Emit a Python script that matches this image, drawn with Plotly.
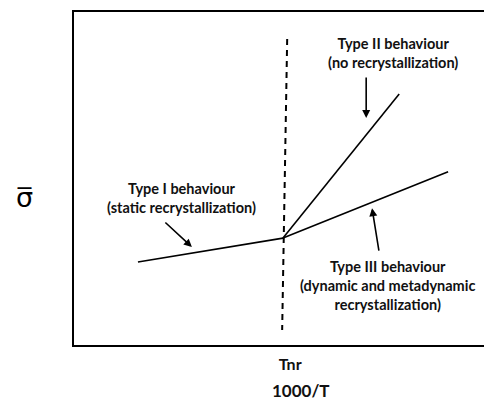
import plotly.graph_objects as go

# schematic data (arbitrary units, x = 1000/T, y = mean flow stress)
type1_x = [1.53, 5.0]
type1_y = [2.49, 3.21]
type2_x = [5.0, 7.78]
type2_y = [3.21, 7.54]
type3_x = [5.0, 8.95]
type3_y = [3.21, 5.2]
tnr_x = [5.10, 4.98]
tnr_y = [9.19, 0.45]

tick_vals = [5.17]
tick_text = ["Tnr"]
x_title = "1000/T"

labels = [
    "Type II behaviour<br>(no recrystallization)",
    "Type I behaviour<br>(static recrystallization)",
    "Type III behaviour<br>(dynamic and metadynamic<br>recrystallization)",
]
label_x = [7.63, 2.58, 7.51]
label_y = [8.77, 4.41, 1.80]

# arrows: tail -> head
arrow_tail_x = [6.99, 2.15, 7.30]
arrow_tail_y = [8.08, 3.72, 2.79]
arrow_head_x = [6.99, 2.82, 7.13]
arrow_head_y = [6.82, 2.94, 4.11]

FONT = "Lato"
PAGE_PAD = 8  # browser body margin

fig = go.Figure()
for xs, ys in [(type1_x, type1_y), (type2_x, type2_y), (type3_x, type3_y)]:
    fig.add_trace(go.Scatter(x=xs, y=ys, mode="lines",
                             line=dict(color="black", width=1.6), hoverinfo="skip"))
fig.add_trace(go.Scatter(x=tnr_x, y=tnr_y, mode="lines",
                         line=dict(color="black", width=2, dash="6px,5px"), hoverinfo="skip"))

for t, x, y in zip(labels, label_x, label_y):
    fig.add_annotation(x=x, y=y, text=f"<b>{t}</b>", showarrow=False,
                       font=dict(family=FONT, size=14.5, color="#111"))

for tx, ty, hx, hy in zip(arrow_tail_x, arrow_tail_y, arrow_head_x, arrow_head_y):
    fig.add_annotation(x=hx, y=hy, ax=tx, ay=ty, axref="x", ayref="y", text="",
                       showarrow=True, arrowhead=2, arrowsize=1, arrowwidth=1.6,
                       arrowcolor="black")

# sigma-bar label (pixel position converted to paper fractions)
fig.add_annotation(x=(14 - 74) / 418, y=(345 - 197) / 333, xref="paper", yref="paper",
                   text="σ\u0305", showarrow=False,
                   font=dict(family="DejaVu Sans", size=27, color="black"))

# x axis title placed below the Tnr label
fig.add_annotation(x=(301 - 74) / 418, y=(345 - 390) / 333, xref="paper", yref="paper",
                   text=f"<b>{x_title}</b>", showarrow=False, yanchor="middle",
                   font=dict(family=FONT, size=17, color="#111"))

fig.update_layout(
    width=492 - PAGE_PAD, height=403 - PAGE_PAD,
    margin=dict(l=74 - PAGE_PAD, r=0, t=12 - PAGE_PAD, b=58),
    plot_bgcolor="white", paper_bgcolor="white",
    showlegend=False,
    xaxis=dict(range=[0, 10], showgrid=False, zeroline=False, showline=True,
               linecolor="black", linewidth=1.6, mirror=True, automargin=False,
               tickvals=tick_vals, ticktext=[f"<b>{t}</b>" for t in tick_text],
               ticks="", ticklabelstandoff=4,
               tickfont=dict(family=FONT, size=16, color="#111")),
    yaxis=dict(range=[0, 10], showgrid=False, zeroline=False, showline=True,
               linecolor="black", linewidth=1.6, showticklabels=False, ticks="",
               automargin=False),
)

fig.write_html("out.html")
